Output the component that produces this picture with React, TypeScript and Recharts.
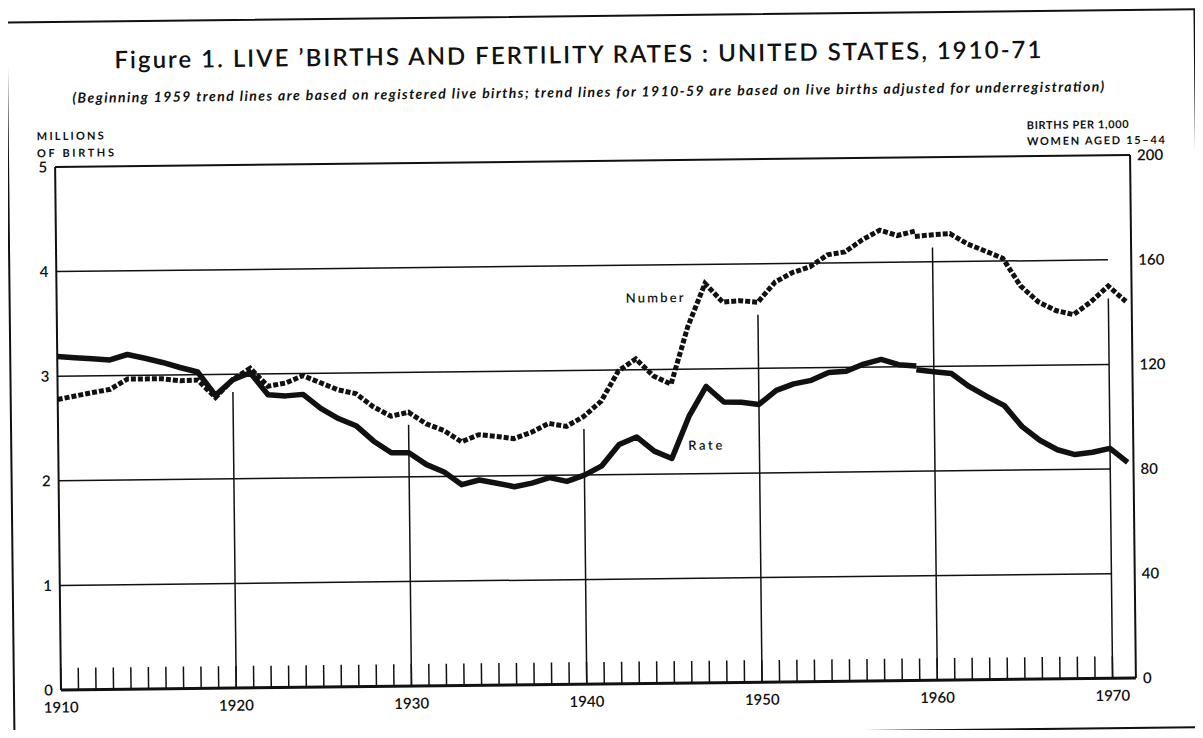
import { LineChart, Line, XAxis, YAxis, ReferenceLine } from "recharts";

// years on the x axis
const years = [
  1910, 1911, 1912, 1913, 1914, 1915, 1916, 1917, 1918, 1919,
  1920, 1921, 1922, 1923, 1924, 1925, 1926, 1927, 1928, 1929,
  1930, 1931, 1932, 1933, 1934, 1935, 1936, 1937, 1938, 1939,
  1940, 1941, 1942, 1943, 1944, 1945, 1946, 1947, 1948, 1949,
  1950, 1951, 1952, 1953, 1954, 1955, 1956, 1957, 1958, 1959,
  1960, 1961, 1962, 1963, 1964, 1965, 1966, 1967, 1968, 1969,
  1970, 1971,
];

// live births, millions, 1910-59 (adjusted for underregistration)
const numberAdjusted = [
  2.777, 2.809, 2.84, 2.869, 2.966, 2.965, 2.964, 2.944, 2.948, 2.78,
  2.95, 3.055, 2.882, 2.91, 2.979, 2.909, 2.839, 2.802, 2.674, 2.582,
  2.618, 2.506, 2.44, 2.33, 2.396, 2.377, 2.355, 2.413, 2.496, 2.466,
  2.559, 2.703, 2.989, 3.104, 2.939, 2.858, 3.411, 3.817, 3.637, 3.649,
  3.632, 3.823, 3.913, 3.965, 4.078, 4.104, 4.218, 4.308, 4.255, 4.295,
];
// live births, millions, 1959-71 (registered)
const numberRegistered = [
  4.245, 4.258, 4.268, 4.167, 4.098, 4.027, 3.76, 3.606, 3.521, 3.48,
  3.6, 3.75, 3.6,
];

// fertility rate per 1,000 women 15-44, 1910-59
const rateAdjusted = [
  127.5, 127.0, 126.5, 126.0, 128.0, 126.5, 124.8, 122.8, 121.0, 112.0,
  117.9, 120.5, 112.0, 111.5, 112.0, 106.6, 102.6, 99.8, 93.8, 89.3,
  89.2, 84.6, 81.7, 76.8, 78.5, 77.2, 75.8, 77.1, 79.1, 77.6,
  79.9, 83.4, 91.5, 94.3, 88.8, 85.9, 101.9, 113.3, 107.3, 107.1,
  106.2, 111.5, 113.9, 115.2, 118.1, 118.5, 121.2, 122.9, 120.8, 120.2,
];
// fertility rate, 1959-71
const rateRegistered = [
  118.8, 118.0, 117.2, 112.2, 108.3, 104.7, 96.6, 91.3, 87.6, 85.7,
  86.5, 87.9, 82.5,
];

const decades = [1920, 1930, 1940, 1950, 1960, 1970];
const birthTicks = [0, 1, 2, 3, 4, 5];
const rateTicks = [0, 40, 80, 120, 160, 200];
const gridBirths = [1, 2, 3, 4];

const regStart = years.indexOf(1959);
const data = years.map((year, i) => ({
  year,
  numberAdj: i <= regStart ? numberAdjusted[i] : undefined,
  numberReg: i >= regStart ? numberRegistered[i - regStart] : undefined,
  rateAdj: i <= regStart ? rateAdjusted[i] : undefined,
  rateReg: i >= regStart ? rateRegistered[i - regStart] : undefined,
}));
const yearTicks = years.filter((y) => y < 1971);

// decade rules stop just under the Number curve
const numberAt = (y: number) => {
  const i = years.indexOf(y);
  return i < regStart ? numberAdjusted[i] : numberRegistered[i - regStart];
};

const ink = "#111";
const font = "Lato, 'DejaVu Sans', sans-serif";
const tickStyle = { fill: ink, fontSize: 15, fontFamily: font, fontWeight: 600 };

export default function App() {
  return (
    <div style={{ position: "relative", width: 1203, height: 738, margin: -8, overflow: "hidden", background: "#fff" }}>
      <div style={{ position: "absolute", left: 0, top: 0, width: 1203, height: 738, transform: "rotate(-0.64deg)", transformOrigin: "595px 422px" }}>
        <div style={{ position: "absolute", left: 10, top: 15, width: 1190, height: 720, border: `2px solid ${ink}`, boxSizing: "border-box" }} />
        <div style={{ position: "absolute", left: 0, top: 0 }}>
          <LineChart width={1203} height={738} data={data} margin={{ top: 161, right: 20, bottom: 24, left: 13 }}>
            <XAxis
              dataKey="year"
              type="number"
              domain={[1910, 1971.33]}
              ticks={yearTicks}
              interval={0}
              height={30}
              tickSize={-22}
              tickMargin={34}
              tickFormatter={(v: number) => (v % 10 === 0 ? String(v) : "")}
              tick={tickStyle}
              stroke={ink}
              axisLine={{ stroke: ink, strokeWidth: 3 }}
              tickLine={{ stroke: ink, strokeWidth: 1.5 }}
            />
            <YAxis
              yAxisId="births"
              domain={[0, 5]}
              ticks={birthTicks}
              width={45}
              tickLine={false}
              tickSize={0}
              tickMargin={8}
              tick={tickStyle}
              axisLine={{ stroke: ink, strokeWidth: 2 }}
            />
            <YAxis
              yAxisId="rate"
              orientation="right"
              domain={[0, 200]}
              ticks={rateTicks}
              width={50}
              tickLine={false}
              tickSize={0}
              tickMargin={7}
              tick={{ ...tickStyle, textAnchor: "start" }}
              axisLine={{ stroke: ink, strokeWidth: 2 }}
            />
            <ReferenceLine yAxisId="births" y={5} stroke={ink} strokeWidth={2} />
            {gridBirths.map((v) => (
              <ReferenceLine
                key={`h${v}`}
                yAxisId="births"
                segment={[{ x: 1910, y: v }, { x: 1970, y: v }]}
                stroke={ink}
                strokeWidth={1.5}
              />
            ))}
            {decades.map((d) => (
              <ReferenceLine
                key={`v${d}`}
                yAxisId="births"
                segment={[{ x: d, y: 0 }, { x: d, y: numberAt(d) - 0.12 }]}
                stroke={ink}
                strokeWidth={1.5}
              />
            ))}
            <Line yAxisId="births" dataKey="numberAdj" stroke={ink} strokeWidth={5} strokeDasharray="5 2" dot={false} isAnimationActive={false} />
            <Line yAxisId="births" dataKey="numberReg" stroke={ink} strokeWidth={5} strokeDasharray="5 2" dot={false} isAnimationActive={false} />
            <Line yAxisId="rate" dataKey="rateAdj" stroke={ink} strokeWidth={5.5} strokeLinejoin="round" dot={false} isAnimationActive={false} />
            <Line yAxisId="rate" dataKey="rateReg" stroke={ink} strokeWidth={5.5} strokeLinejoin="round" dot={false} isAnimationActive={false} />
          </LineChart>
        </div>
        <svg width={1203} height={738} style={{ position: "absolute", left: 0, top: 0, pointerEvents: "none" }} fontFamily={font} fill={ink}>
          <text x={582} y={63} textAnchor="middle" fontSize={24} fontWeight={600} textLength={927} lengthAdjust="spacing">
            Figure 1.  LIVE ’BIRTHS AND FERTILITY RATES : UNITED STATES, 1910-71
          </text>
          <text x={592} y={97} textAnchor="middle" fontSize={14} fontWeight={700} fontStyle="italic" textLength={1032} lengthAdjust="spacing">
            (Beginning 1959 trend lines are based on registered live births; trend lines for 1910-59 are based on live births adjusted for underregistration)
          </text>
          <text x={40} y={134} fontSize={11} fontWeight={700} textLength={67} lengthAdjust="spacing">MILLIONS</text>
          <text x={40} y={151} fontSize={11} fontWeight={700} textLength={77} lengthAdjust="spacing">OF BIRTHS</text>
          <text x={1030} y={134} fontSize={11} fontWeight={700} textLength={102} lengthAdjust="spacing">BIRTHS PER 1,000</text>
          <text x={1030} y={150} fontSize={11} fontWeight={700} textLength={138} lengthAdjust="spacing">WOMEN AGED 15–44</text>
          <text x={627} y={303} fontSize={13} fontWeight={600} textLength={58} lengthAdjust="spacing">Number</text>
          <text x={688} y={451} fontSize={13} fontWeight={600} textLength={34} lengthAdjust="spacing">Rate</text>
        </svg>
      </div>
    </div>
  );
}
